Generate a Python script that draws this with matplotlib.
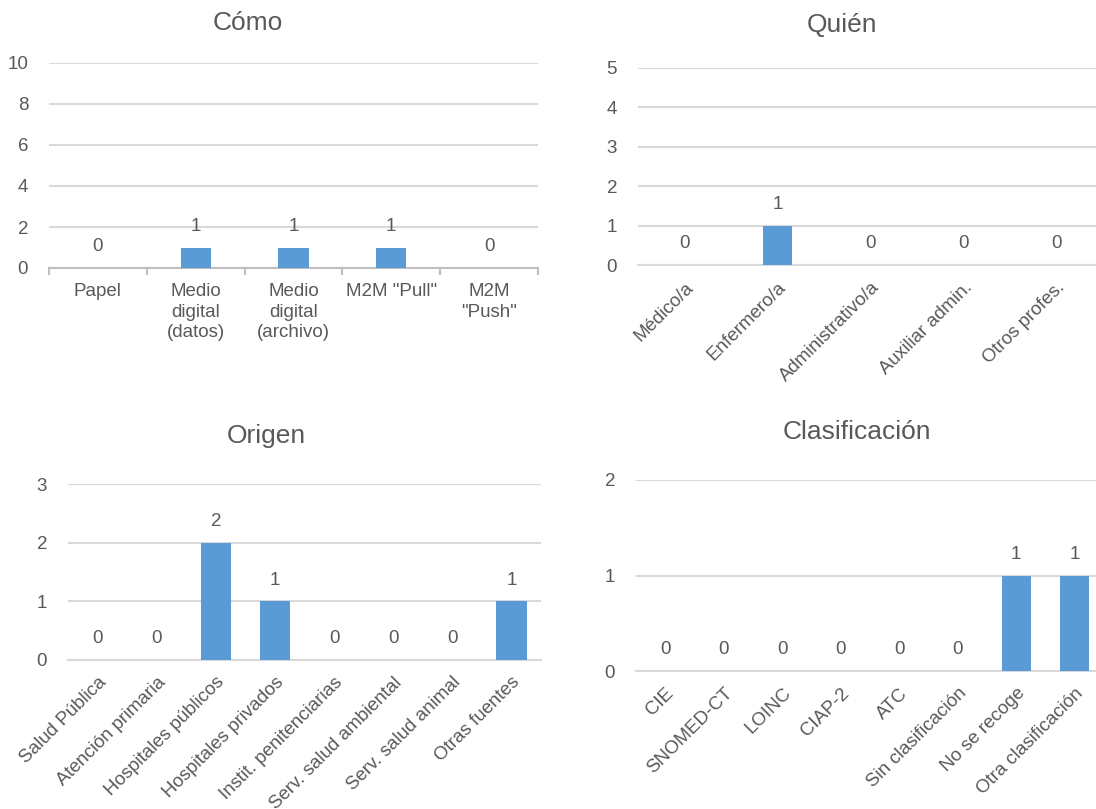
import matplotlib
matplotlib.use("Agg")
import matplotlib.pyplot as plt

plt.rcParams['font.family'] = ['Liberation Sans', 'DejaVu Sans']

W, H = 1096, 809

como_cats = ['Papel', 'Medio\ndigital\n(datos)', 'Medio\ndigital\n(archivo)', 'M2M "Pull"', 'M2M\n"Push"']
como_vals = [0, 1, 1, 1, 0]

quien_cats = ['Médico/a', 'Enfermero/a', 'Administrativo/a', 'Auxiliar admin.', 'Otros profes.']
quien_vals = [0, 1, 0, 0, 0]

origen_cats = ['Salud Pública', 'Atención primaria', 'Hospitales públicos', 'Hospitales privados',
               'Instit. penitenciarias', 'Serv. salud ambiental', 'Serv. salud animal', 'Otras fuentes']
origen_vals = [0, 0, 2, 1, 0, 0, 0, 1]

clas_cats = ['CIE', 'SNOMED-CT', 'LOINC', 'CIAP-2', 'ATC', 'Sin clasificación', 'No se recoge', 'Otra clasificación']
clas_vals = [0, 0, 0, 0, 0, 0, 1, 1]

BAR = '#5B9BD5'
TXT = '#595959'
GRID = '#D9D9D9'
FS = 13.5
TFS = 19

fig = plt.figure(figsize=(W / 100, H / 100), dpi=100)


def make_ax(x0, x1, ytop, ybot):
    return fig.add_axes([x0 / W, (H - ybot) / H, (x1 - x0) / W, (ybot - ytop) / H])


def draw(ax, cats, vals, ymax, step, width, rotate, title, tx, ty, ticks_between=False):
    n = len(cats)
    xs = list(range(n))
    ax.bar(xs, vals, width=width, color=BAR, zorder=3)
    ax.set_xlim(-0.5, n - 0.5)
    ax.set_ylim(0, ymax)
    yt = list(range(0, ymax + 1, step))
    ax.set_yticks(yt)
    ax.set_yticklabels([str(v) for v in yt])
    ax.grid(axis='y', color=GRID, linewidth=1.5, zorder=0)
    ax.set_axisbelow(True)
    for s in ['top', 'right', 'left']:
        ax.spines[s].set_visible(False)
    ax.spines['bottom'].set_color('#BFBFBF' if ticks_between else GRID)
    ax.spines['bottom'].set_linewidth(1.5)
    ax.tick_params(axis='y', length=0, pad=15, labelsize=FS, labelcolor=TXT)
    ax.set_xticks(xs)
    if rotate:
        ax.set_xticklabels(cats, rotation=45, ha='right', rotation_mode='anchor')
        ax.tick_params(axis='x', length=0, pad=10, labelsize=FS, labelcolor=TXT)
    else:
        ax.set_xticklabels(cats, ha='center', va='top', linespacing=1.25)
        ax.tick_params(axis='x', length=0, pad=11, labelsize=FS, labelcolor=TXT)
    if ticks_between:
        for b in range(n + 1):
            ax.plot([b - 0.5, b - 0.5], [0, -0.03], transform=ax.get_xaxis_transform(),
                    color='#BFBFBF', linewidth=1.5, clip_on=False)
    for x, v in zip(xs, vals):
        ax.annotate(str(v), (x, v), xytext=(0, 12), textcoords='offset points',
                    ha='center', va='baseline', fontsize=FS, color=TXT)
    fig.text(tx / W, 1 - ty / H, title, ha='center', va='center', fontsize=TFS, color=TXT)


ax1 = make_ax(49, 538, 63, 268)
draw(ax1, como_cats, como_vals, 10, 2, 0.31, False, 'Cómo', 248, 23, ticks_between=True)

ax2 = make_ax(638, 1103, 68, 265)
draw(ax2, quien_cats, quien_vals, 5, 1, 0.32, True, 'Quién', 842, 25)

ax3 = make_ax(68, 541, 484, 660)
draw(ax3, origen_cats, origen_vals, 3, 1, 0.51, True, 'Origen', 266, 436)

ax4 = make_ax(636, 1104, 480, 671)
draw(ax4, clas_cats, clas_vals, 2, 1, 0.49, True, 'Clasificación', 857, 432)

fig.savefig('out.png', dpi=100, facecolor='white')
